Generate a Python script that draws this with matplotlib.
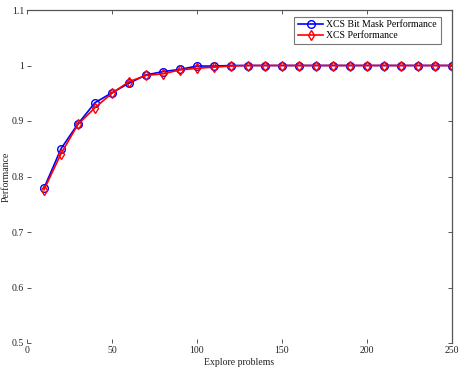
import numpy as np
import matplotlib
matplotlib.use("Agg")
import matplotlib.pyplot as plt

# explore problems (x axis)
problems = [10, 20, 30, 40, 50, 60, 70, 80, 90, 100, 110, 120, 130,
            140, 150, 160, 170, 180, 190, 200, 210, 220, 230, 240, 250]

# XCS Bit Mask Performance (blue circles)
bitmask_perf = [0.779, 0.850, 0.895, 0.933, 0.951, 0.968, 0.983, 0.989, 0.993, 0.999,
                0.999, 1.0, 1.0, 1.0, 1.0, 1.0, 1.0, 1.0, 1.0, 1.0,
                1.0, 1.0, 1.0, 1.0, 1.0]

# XCS Performance (red diamonds)
xcs_perf = [0.776, 0.841, 0.894, 0.924, 0.950, 0.971, 0.982, 0.985, 0.992, 0.995,
            0.997, 0.999, 1.0, 1.0, 1.0, 1.0, 1.0, 1.0, 1.0, 1.0,
            1.0, 1.0, 1.0, 1.0, 1.0]

x_ticks = [0, 50, 100, 150, 200, 250]
y_ticks = [0.5, 0.6, 0.7, 0.8, 0.9, 1.0, 1.1]
y_labels = ["0.5", "0.6", "0.7", "0.8", "0.9", "1", "1.1"]

plt.rcParams['font.family'] = ['Liberation Serif', 'DejaVu Serif']

fig = plt.figure(figsize=(4.6, 3.74), dpi=100)
ax = fig.add_axes([27 / 460, 31 / 374, 425 / 460, 333 / 374])

ax.plot(problems, bitmask_perf, color='#0000ff', lw=1.2, marker='o', ms=5.5,
        mfc='none', mew=1.0, label='XCS Bit Mask Performance')
ax.plot(problems, xcs_perf, color='#ff0000', lw=1.2, marker='d', ms=5.5,
        mfc='none', mew=1.0, label='XCS Performance')

ax.set_xlim(0, 250)
ax.set_ylim(0.5, 1.1)
ax.set_xticks(x_ticks)
ax.set_yticks(y_ticks)
ax.set_yticklabels(y_labels)

ax.spines['left'].set_visible(False)
ax.spines['bottom'].set_visible(False)
for s in ['top', 'right']:
    ax.spines[s].set_color('#555555')
    ax.spines[s].set_linewidth(0.9)

ax.tick_params(direction='in', length=3, width=0.7, color='#555555',
               labelsize=7, top=True, right=True, pad=2, labelcolor='#222222')

ax.set_xlabel('Explore problems', fontsize=7, labelpad=2, color='#222222')
ax.set_ylabel('Performance', fontsize=7, color='#222222', va='center')
ax.yaxis.set_label_coords(-0.048, 0.5)

leg = ax.legend(loc='upper right', fontsize=7, frameon=True, fancybox=False,
                borderpad=0.4, handlelength=2.6, handletextpad=0.3,
                labelspacing=0.2, bbox_to_anchor=(0.985, 0.995))
leg.get_frame().set_edgecolor('#555555')
leg.get_frame().set_linewidth(0.8)

fig.savefig('out.png', dpi=100)
